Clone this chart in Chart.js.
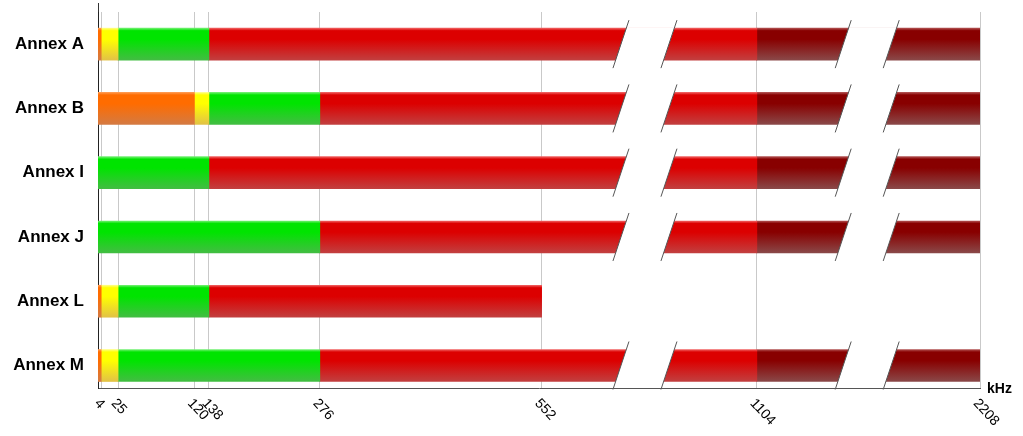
<!DOCTYPE html>
<html>
<head>
<meta charset="utf-8">
<title>xDSL annex band plan</title>
<script src="https://cdn.jsdelivr.net/npm/chart.js@4/dist/chart.umd.js"></script>
<style>
  html, body { margin: 0; padding: 0; background: #fff; }
  #wrap { width: 1023px; height: 436px; }
</style>
</head>
<body>
<div id="wrap"><canvas id="annexChart"></canvas></div>
<script>
// Annexes and frequency bands (kHz), one array per band colour
const annexes = ["Annex A", "Annex B", "Annex I", "Annex J", "Annex L", "Annex M"];
const tickKHz = [4, 25, 120, 138, 276, 552, 1104, 2208];
const orangeBand = [[0, 4], [0, 120], null, null, [0, 4], [0, 4]];
const yellowBand = [[4, 25], [120, 138], null, null, [4, 25], [4, 25]];
const greenBand = [[25, 138], [138, 276], [0, 138], [0, 276], [25, 138], [25, 276]];
const redBand = [[138, 1104], [276, 1104], [138, 1104], [276, 1104], [138, 552], [276, 1104]];
const darkRedBand = [[1104, 2208], [1104, 2208], [1104, 2208], [1104, 2208], null, [1104, 2208]];
// where the axis is cut (kHz)
const axisBreaks = [817, 1650];

const FONT = "'Liberation Sans', Arial, sans-serif";

// piecewise linear x scale: 0-552 gets half the width, then each octave a quarter
class BrokenScale extends Chart.LinearScale {
  _toDecimal(value) {
    const segs = this.options.segments;
    const total = segs.reduce((s, g) => s + g.weight, 0);
    let acc = 0, from = this.min;
    for (const g of segs) {
      if (value <= g.to) return (acc + (value - from) / (g.to - from) * g.weight) / total;
      acc += g.weight;
      from = g.to;
    }
    return 1;
  }
  getPixelForValue(value) {
    return value === null || value === undefined ? NaN : this.getPixelForDecimal(this._toDecimal(value));
  }
  getValueForPixel(pixel) {
    const dec = this.getDecimalForPixel(pixel);
    const segs = this.options.segments;
    const total = segs.reduce((s, g) => s + g.weight, 0);
    let acc = 0, from = this.min;
    for (const g of segs) {
      const w = g.weight / total;
      if (dec <= acc + w) return from + (dec - acc) / w * (g.to - from);
      acc += w;
      from = g.to;
    }
    return this.max;
  }
}
BrokenScale.id = "broken";
BrokenScale.defaults = Chart.LinearScale.defaults;
Chart.register(BrokenScale);

// vertical gradients like the original glossy bars
const palette = {
  orange: ["#ff9a50", "#ff6c00", "#d47a42"],
  yellow: ["#ffff80", "#ffff00", "#e2c246"],
  green: ["#70f070", "#00e400", "#42bd42"],
  red: ["#f06060", "#dc0000", "#c23f3f"],
  darkRed: ["#b05050", "#880000", "#8a4848"]
};

function barFill(colors) {
  return (c) => {
    const chart = c.chart;
    const ys = chart.scales.y;
    if (!ys || !c.raw) return colors[1];
    const yc = ys.getPixelForValue(c.raw.y);
    if (!isFinite(yc)) return colors[1];
    const g = chart.ctx.createLinearGradient(0, yc - 16, 0, yc + 16);
    g.addColorStop(0, colors[0]);
    g.addColorStop(0.08, colors[1]);
    g.addColorStop(0.35, colors[1]);
    g.addColorStop(1, colors[2]);
    return g;
  };
}

function band(name, ranges, colors) {
  return {
    label: name,
    data: ranges.map((r, i) => r && { x: r, y: i }).filter(Boolean),
    backgroundColor: barFill(colors),
    borderWidth: 0,
    barThickness: 32,
    grouped: false
  };
}

// white slanted gaps with dark edges where the axis is cut
const breakPlugin = {
  id: "breaks",
  afterDatasetsDraw(chart) {
    const { ctx, scales: { x, y } } = chart;
    const half = 24, slant = 1 / 3, bar = 16, over = 8;
    annexes.forEach((_, i) => {
      const end = darkRedBand[i] ? darkRedBand[i][1] : redBand[i][1];
      const yc = y.getPixelForValue(i);
      axisBreaks.forEach((b) => {
        if (end <= b) return;
        const xc = x.getPixelForValue(b);
        const at = (d, yy) => xc + d - (yy - yc) * slant;
        const t = yc - bar - 1, btm = yc + bar + 1;
        ctx.save();
        ctx.fillStyle = "#fff";
        ctx.beginPath();
        ctx.moveTo(at(-half, t), t);
        ctx.lineTo(at(half, t), t);
        ctx.lineTo(at(half, btm), btm);
        ctx.lineTo(at(-half, btm), btm);
        ctx.closePath();
        ctx.fill();
        ctx.strokeStyle = "#555";
        ctx.lineWidth = 1;
        [-half, half].forEach((d) => {
          ctx.beginPath();
          ctx.moveTo(at(d, yc - bar - over), yc - bar - over);
          ctx.lineTo(at(d, yc + bar + over), yc + bar + over);
          ctx.stroke();
        });
        ctx.restore();
      });
    });
  },
  afterDraw(chart) {
    const { ctx, chartArea, scales: { x } } = chart;
    ctx.save();
    // y axis line runs a little above the plot
    ctx.strokeStyle = "#333";
    ctx.lineWidth = 1;
    ctx.beginPath();
    ctx.moveTo(chartArea.left + 0.5, 3);
    ctx.lineTo(chartArea.left + 0.5, chartArea.top);
    ctx.stroke();
    // rotated tick labels reading downwards
    ctx.fillStyle = "#000";
    ctx.font = "14px " + FONT;
    ctx.textAlign = "left";
    ctx.textBaseline = "middle";
    x.ticks.forEach((t) => {
      const px = x.getPixelForValue(t.value);
      ctx.save();
      ctx.translate(px - 4.5, chartArea.bottom + 13);
      ctx.rotate(47 * Math.PI / 180);
      ctx.fillText(String(t.value), 0, 0);
      ctx.restore();
    });
    // unit
    ctx.font = "bold 14px " + FONT;
    ctx.fillStyle = "#000";
    ctx.fillText("kHz", chartArea.right + 7, chartArea.bottom + 1);
    ctx.restore();
  }
};

const ctx = document.getElementById("annexChart");

new Chart(ctx, {
  type: "bar",
  data: {
    datasets: [
      band("orange", orangeBand, palette.orange),
      band("yellow", yellowBand, palette.yellow),
      band("green", greenBand, palette.green),
      band("red", redBand, palette.red),
      band("dark red", darkRedBand, palette.darkRed)
    ]
  },
  options: {
    indexAxis: "y",
    responsive: true,
    maintainAspectRatio: false,
    animation: false,
    events: [],
    layout: { padding: { top: 12, right: 43, left: 0, bottom: 0 } },
    plugins: {
      legend: { display: false },
      tooltip: { enabled: false }
    },
    scales: {
      x: {
        type: "broken",
        min: 0,
        max: 2208,
        z: 1,
        segments: [
          { to: 552, weight: 0.503 },
          { to: 1104, weight: 0.244 },
          { to: 2208, weight: 0.253 }
        ],
        afterBuildTicks: (s) => { s.ticks = tickKHz.map((v) => ({ value: v })); },
        afterFit: (s) => { s.height = 48; s.paddingLeft = 0; s.paddingRight = 0; },
        grid: { color: "rgba(195,195,195,0.9)", drawTicks: false },
        border: { color: "#555", width: 1 },
        ticks: { display: false }
      },
      y: {
        type: "linear",
        reverse: true,
        offset: false,
        min: -0.5,
        max: 5.35,
        z: 1,
        afterBuildTicks: (s) => { s.ticks = annexes.map((_, i) => ({ value: i })); },
        afterFit: (s) => { s.width = 98; s.paddingTop = 0; s.paddingBottom = 0; },
        grid: { display: false, drawTicks: false },
        border: { color: "#222", width: 1 },
        ticks: {
          padding: 14,
          color: "#000",
          font: { family: FONT, size: 17, weight: "bold" },
          callback: (v) => annexes[v]
        }
      }
    }
  },
  plugins: [breakPlugin]
});
</script>
</body>
</html>
